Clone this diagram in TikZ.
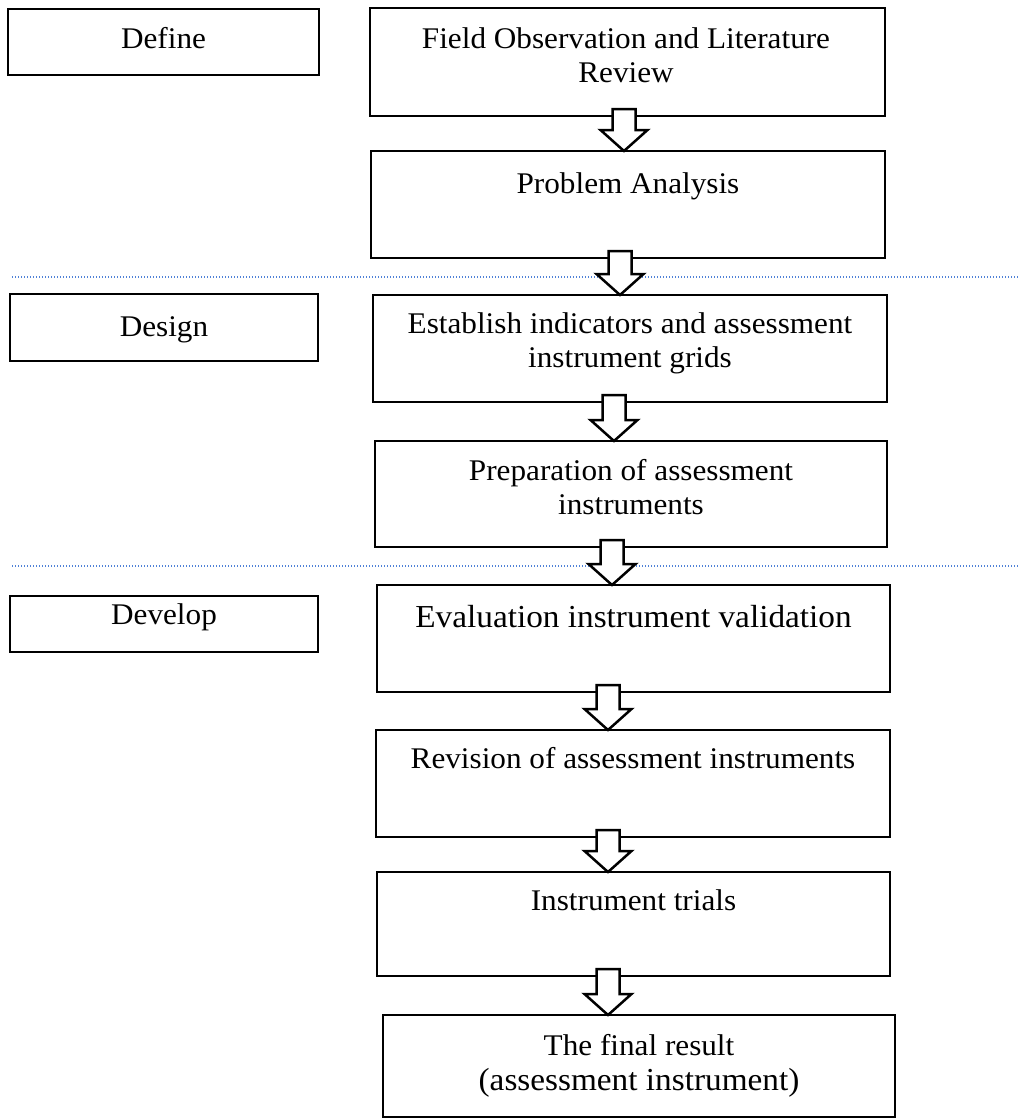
\documentclass[tikz,border=0pt]{standalone}
\usepackage{fontspec}
\setmainfont{Liberation Serif}[FakeStretch=1.04]
\usetikzlibrary{calc}
\definecolor{sepblue}{RGB}{80,130,215}
\newcommand\blkarrow[3]{%
  \draw[blk] let \p1=(#1.south), \p2=(#2.north) in
    ({(#3-11.5)*1pt},\y1+7pt) -- ({(#3+11.5)*1pt},\y1+7pt) -- ({(#3+11.5)*1pt},\y2+21pt)
    -- ({(#3+23.5)*1pt},\y2+21pt) -- ({#3*1pt},\y2) -- ({(#3-23.5)*1pt},\y2+21pt)
    -- ({(#3-11.5)*1pt},\y2+21pt) -- cycle;}
\begin{document}
\begin{tikzpicture}[x=1pt,y=-1pt,
  box/.style={draw, line width=2.8pt, inner sep=0pt, outer sep=0pt},
  lbl/.style={anchor=base, inner sep=0pt, font=\fontsize{30}{34}\selectfont},
  lblb/.style={anchor=base, inner sep=0pt, font=\fontsize{32}{36}\selectfont},
  sep/.style={draw=sepblue, line width=1.1pt, dash pattern=on 1.2pt off 1.8pt},
  blk/.style={draw, fill=white, line width=2.5pt, line join=miter}]
\useasboundingbox (0,0) rectangle (1019,1119);
% separators
\coordinate (s1a) at (12,277); \coordinate (s1b) at (1018,277);
\coordinate (s2a) at (12,566); \coordinate (s2b) at (1018,566);
\draw[sep] (s1a) -- (s1b);
\draw[sep] (s2a) -- (s2b);
% phase boxes
\node[box, minimum width=311pt, minimum height=66pt] (def) at (163.5,42) {};
\node[box, minimum width=308pt, minimum height=67pt] (des) at (164,327.5) {};
\node[box, minimum width=308pt, minimum height=56pt] (dev) at (164,624) {};
\node[lbl] (tdef) at (163.5,48) {Define};
\node[lbl] (tdes) at (164,336) {Design};
\node[lbl] (tdev) at (164,624) {Develop};
% step boxes
\node[box, minimum width=515pt, minimum height=108pt] (b1) at (627.5,62) {};
\node[box, minimum width=514pt, minimum height=107pt] (b2) at (628,204.5) {};
\node[box, minimum width=514pt, minimum height=107pt] (b3) at (630,348.5) {};
\node[box, minimum width=512pt, minimum height=106pt] (b4) at (631,494) {};
\node[box, minimum width=513pt, minimum height=107pt] (b5) at (633.5,638.5) {};
\node[box, minimum width=514pt, minimum height=107pt] (b6) at (633,783.5) {};
\node[box, minimum width=513pt, minimum height=104pt] (b7) at (633.5,924) {};
\node[box, minimum width=512pt, minimum height=102pt] (b8) at (639,1066) {};
% texts
\node[lbl] (t1a) at (626,48) {Field Observation and Literature};
\node[lbl] (t1b) at (626,82) {Review};
\node[lbl] (t2) at (628,193) {Problem Analysis};
\node[lbl] (t3a) at (630,333) {Establish indicators and assessment};
\node[lbl] (t3b) at (630,367) {instrument grids};
\node[lbl] (t4a) at (631,480) {Preparation of assessment};
\node[lbl] (t4b) at (631,514) {instruments};
\node[lblb] (t5) at (633.5,627) {Evaluation instrument validation};
\node[lbl] (t6) at (633,768) {Revision of assessment instruments};
\node[lbl] (t7) at (633.5,910) {Instrument trials};
\node[lbl] (t8a) at (639,1055) {The final result};
\node[lblb] (t8b) at (639,1090) {(assessment instrument)};
% block arrows
\blkarrow{b1}{b2}{624}
\blkarrow{b2}{b3}{620}
\blkarrow{b3}{b4}{614}
\blkarrow{b4}{b5}{612}
\blkarrow{b5}{b6}{608}
\blkarrow{b6}{b7}{608}
\blkarrow{b7}{b8}{608}
\end{tikzpicture}
\end{document}
